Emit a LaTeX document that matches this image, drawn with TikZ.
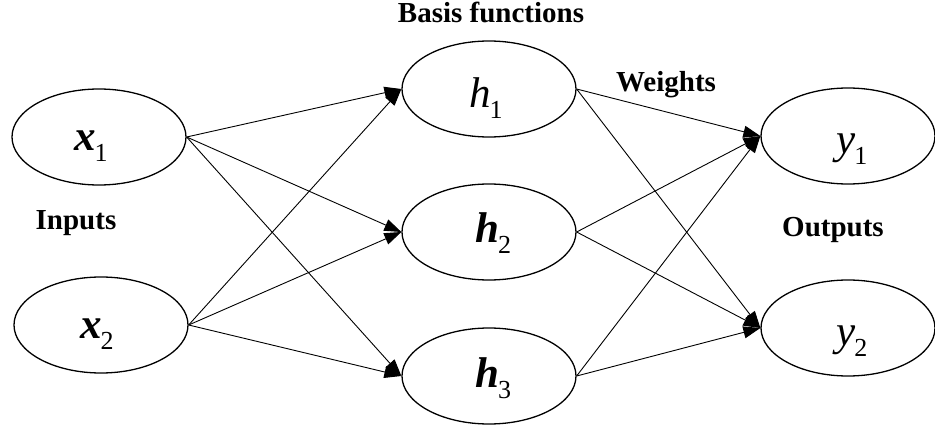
\documentclass[tikz,border=0pt]{standalone}
\usepackage{fontspec}
\setmainfont{Liberation Serif}
\usetikzlibrary{arrows.meta,shapes.geometric}
\newcommand\mylab[2]{{\fontsize{43}{43}\selectfont\itshape #1}\kern-1pt\raisebox{-11pt}{\fontsize{26}{26}\selectfont\mdseries\upshape #2}}
\begin{document}
\begin{tikzpicture}[x=1pt,y=-1pt,
  ell/.style={draw,ellipse,line width=1.3pt,minimum width=174pt,minimum height=96pt,inner sep=0pt},
  conn/.style={line width=0.9pt,-{Triangle[length=17pt,width=12pt]}},
  ttl/.style={font=\fontsize{29}{31}\selectfont\bfseries,inner sep=0pt,anchor=base},
  lbl/.style={inner sep=0pt,anchor=base west}]
\useasboundingbox (0,0) rectangle (935,431);
% ellipses
\node[ell] (x1) at (99,137) {};
\node[ell] (x2) at (101,325) {};
\node[ell] (h1) at (489,89) {};
\node[ell] (h2) at (489,232) {};
\node[ell] (h3) at (489,376) {};
\node[ell] (y1) at (848,136) {};
\node[ell] (y2) at (848,328) {};
% labels inside ellipses
\node[lbl] (lx1) at (74,150) {\bfseries\mylab{x}{1}};
\node[lbl] (lx2) at (80,338) {\bfseries\mylab{x}{2}};
\node[lbl] (lh1) at (469,107) {\mylab{h}{1}};
\node[lbl] (lh2) at (475,242) {\bfseries\mylab{h}{2}};
\node[lbl] (lh3) at (475,387) {\bfseries\mylab{h}{3}};
\node[lbl] (ly1) at (836,153) {\mylab{y}{1}};
\node[lbl] (ly2) at (836,345) {\mylab{y}{2}};
% titles
\node[ttl] (basis) at (491,23) {Basis functions};
\node[ttl] (weights) at (666,91) {Weights};
\node[ttl] (inputs) at (76,229) {Inputs};
\node[ttl] (outputs) at (833,236) {Outputs};
% connectors
\foreach \s in {x1,x2}{
  \foreach \t in {h1,h2,h3}{
    \draw[conn] (\s.east) -- (\t.west);
  }
}
\foreach \s in {h1,h2,h3}{
  \foreach \t in {y1,y2}{
    \draw[conn] (\s.east) -- (\t.west);
  }
}
\end{tikzpicture}
\end{document}
